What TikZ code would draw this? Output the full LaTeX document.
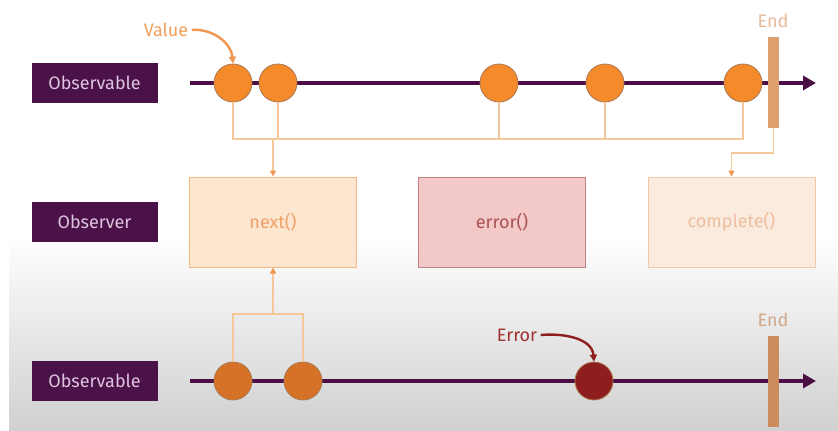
\documentclass[tikz,border=0pt]{standalone}
\usepackage{fontspec}
\setmainfont{Fira Sans}
\usepackage{tikz}
\usetikzlibrary{arrows.meta,positioning,calc}

\definecolor{tagPurple}{RGB}{74,18,72}
\definecolor{tagText}{RGB}{222,196,222}
\definecolor{linePurple}{RGB}{75,15,70}
\definecolor{valOrange}{RGB}{245,138,42}
\definecolor{valOrangeDk}{RGB}{214,114,40}
\definecolor{valEdge}{RGB}{170,120,80}
\definecolor{errRed}{RGB}{142,30,30}
\definecolor{endBar}{RGB}{222,160,110}
\definecolor{endBarDk}{RGB}{204,140,94}
\definecolor{endText}{RGB}{232,186,152}
\definecolor{linkLine}{RGB}{244,200,152}
\definecolor{tipOrange}{RGB}{240,150,80}
\definecolor{nextFill}{RGB}{253,230,208}
\definecolor{nextDraw}{RGB}{243,185,130}
\definecolor{nextText}{RGB}{240,160,100}
\definecolor{errFill}{RGB}{242,200,200}
\definecolor{errDraw}{RGB}{190,130,130}
\definecolor{errText}{RGB}{172,82,82}
\definecolor{doneFill}{RGB}{251,234,222}
\definecolor{doneDraw}{RGB}{240,200,170}
\definecolor{doneText}{RGB}{238,190,160}
\definecolor{valueText}{RGB}{240,160,90}
\definecolor{errLabel}{RGB}{160,50,50}
\definecolor{bgGray}{RGB}{208,208,208}

\begin{document}
\begin{tikzpicture}[
  x=1pt, y=-1pt,
  font=\fontsize{18}{21}\selectfont,
  tag/.style={fill=tagPurple, text=tagText, minimum width=126pt,
              minimum height=40pt, inner sep=0pt},
  timeline/.style={line width=4pt, draw=linePurple,
                   -{Triangle[length=13pt,width=14pt]}},
  val/.style={circle, minimum size=38pt, inner sep=0pt, fill=valOrange,
              draw=valEdge, line width=0.8pt},
  endbar/.style={rectangle, minimum width=11pt, minimum height=91pt,
                 inner sep=0pt, fill=endBar},
  fn/.style={rectangle, minimum width=167pt, minimum height=90pt,
             inner sep=0pt, line width=1pt},
  link/.style={draw=linkLine, line width=1.4pt},
  flow/.style={link, -{Triangle[length=6pt,width=6pt,fill=tipOrange,color=tipOrange]}},
  curly/.style={line width=2.4pt, -{Triangle[length=7pt,width=7pt]}}
]
% background
\fill[white] (0,0) rectangle (838,431);
\shade[top color=white, bottom color=bgGray] (9,235) rectangle (838,431);

% row labels
\node[tag] (obs1) at (94.5,83) {Observable};
\node[tag] (obsr) at (94.5,222) {Observer};
\node[tag] (obs2) at (94.5,381) {Observable};

% observer callbacks
\node[fn, fill=nextFill, draw=nextDraw, text=nextText] (next) at (273,222) {next()};
\node[fn, fill=errFill, draw=errDraw, text=errText] (error) at (502,222) {error()};
\node[fn, fill=doneFill, draw=doneDraw, text=doneText] (done) at (731.5,222) {complete()};

% upper stream
\coordinate (s1) at (190,83);
\coordinate (e1) at (816,83);
\draw[timeline] (s1) -- (e1);
\node[val] (v1) at (233,83) {};
\node[val] (v2) at (278,83) {};
\node[val] (v3) at (499,83) {};
\node[val] (v4) at (605,83) {};
\node[val] (v5) at (743,83) {};
\node[endbar] (end1) at (773.5,82.5) {};
\node[text=endText] (endlab1) at (773,21) {End};
\node[text=valueText] (value) at (166,30) {Value};
\draw[curly, draw=tipOrange] (value.east) to[out=5,in=95] (v1.north);

% values go to next(), the end goes to complete()
\coordinate (hub) at (273,139);
\coordinate (turn) at (731.5,153);
\draw[link] (v1.south) |- (hub);
\draw[link] (v5.south) |- (hub);
\foreach \v in {v2,v3,v4}
  \draw[link] (\v.south) -- (\v.south |- hub);
\draw[flow] (hub) -- (next.north);
\draw[flow] (end1.south) |- (turn) -- (done.north);

% lower stream
\coordinate (s2) at (190,381);
\coordinate (e2) at (816,381);
\draw[timeline] (s2) -- (e2);
\node[val, fill=valOrangeDk] (w1) at (233,381) {};
\node[val, fill=valOrangeDk] (w2) at (303,381) {};
\node[val, fill=errRed] (err) at (594,381) {};
\node[endbar, fill=endBarDk] (end2) at (773,381.5) {};
\node[text=endText!90!black] (endlab2) at (773,320) {End};
\node[text=errLabel] (errlab) at (517,335) {Error};
\draw[curly, draw=errRed] (errlab.east) to[out=5,in=95] (err.north);

\coordinate (hub2) at (273,314);
\draw[link] (w1.north) |- (hub2);
\draw[link] (w2.north) |- (hub2);
\draw[flow] (hub2) -- (next.south);
\end{tikzpicture}
\end{document}
